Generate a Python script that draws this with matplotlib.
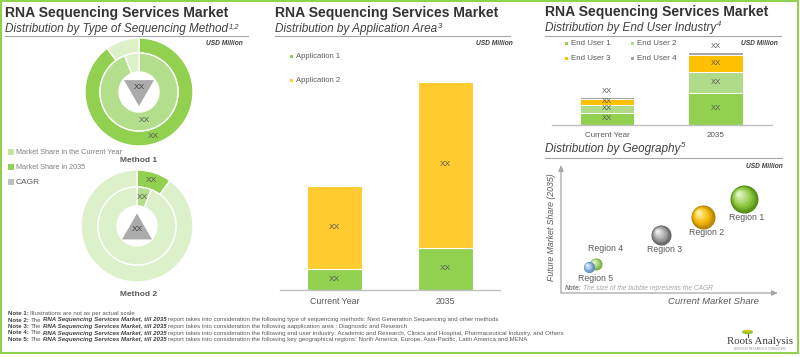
import matplotlib
matplotlib.use('Agg')
import matplotlib.pyplot as plt
from matplotlib.patches import Polygon, Rectangle, Ellipse
from matplotlib.transforms import ScaledTranslation
import matplotlib.colors as mcolors
import numpy as np

plt.rcParams['font.family'] = ['Liberation Sans', 'DejaVu Sans']

# ---------------- data ----------------
methods = ['Method 1', 'Method 2']
share_current = [94, 6]      # market share in the current year (%)
share_2035 = [90, 10]        # market share in 2035 (%)
cagr_direction = ['down', 'up']

app_categories = ['Current Year', '2035']
app_series = ['Application 1', 'Application 2']
app1 = [21, 42]
app2 = [83, 166]

eu_categories = ['Current Year', '2035']
eu_series = ['End User 1', 'End User 2', 'End User 3', 'End User 4']
eu1 = [12.3, 32.3]
eu2 = [8.0, 21.0]
eu3 = [6.0, 16.4]
eu4 = [1.5, 3.0]

regions = ['Region 1', 'Region 2', 'Region 3', 'Region 4', 'Region 5']
current_share = [84.3, 65.4, 46.1, 16.1, 12.9]
future_share = [73.4, 59.4, 45.3, 22.7, 20.3]
region_cagr = [14, 12, 10, 6, 5.5]

notes = [
    ("Note 1:", None, "Illustrations are not as per actual scale"),
    ("Note 2:", "RNA Sequencing Services Market, till 2035",
     "report takes into consideration the following type of sequencing methods: Next Generation Sequencing and other methods"),
    ("Note 3:", "RNA Sequencing Services Market, till 2035",
     "report takes into consideration the following aapplication area : Diagnostic and Research"),
    ("Note 4:", "RNA Sequencing Services Market, till 2035",
     "report takes into consideration the following end user industry: Academic and Research, Clinics and Hospital, Pharmaceutical Industry, and Others"),
    ("Note 5:", "RNA Sequencing Services Market, till 2035",
     "report takes into consideration the following key geographical regions: North America, Europe, Asia-Pacific, Latin America and MENA"),
]

# ---------------- style ----------------
W, H = 800, 357
GREEN = '#92D050'
CUR = '#B3DE8C'
OTHER = '#DCF0CA'
YEL2 = '#FFCB2F'
EU_COLORS = ['#92D050', '#B0DC8A', '#FFC000', '#A6A6A6']
GRAY_T = '#595959'
TITLE_C = '#333333'

fig = plt.figure(figsize=(8, 3.57), dpi=100)
bg = fig.add_axes([0, 0, 1, 1])
bg.set_xlim(0, W)
bg.set_ylim(H, 0)
bg.axis('off')
renderer = fig.canvas.get_renderer()


def ax_px(x0, y0, w, h):
    a = fig.add_axes([x0 / W, 1 - (y0 + h) / H, w / W, h / H])
    a.patch.set_visible(False)
    return a


def text_w(t):
    return t.get_window_extent(renderer).width


def header(x, y_title, y_sub, y_line, x_line_end, title, sub, sup):
    if title:
        bg.text(x, y_title, title, fontsize=10.1, fontweight='bold', color=TITLE_C,
                va='baseline', ha='left')
    t = bg.text(x, y_sub, sub, fontsize=8.5, fontstyle='italic', color='#404040',
                va='baseline', ha='left')
    wdt = text_w(t)
    bg.text(x + wdt + 0.5, y_sub - 4.5, sup, fontsize=5.5, fontstyle='italic',
            color='#404040', va='baseline', ha='left')
    bg.plot([x, x_line_end], [y_line, y_line], color='#A6A6A6', lw=0.8)


def usd(xr, y):
    bg.text(xr, y, 'USD Million', fontsize=4.8, fontweight='bold', fontstyle='italic',
            color='#404040', ha='right', va='baseline')


# border
bg.add_patch(Rectangle((1, 1), 797, 352, fill=False, edgecolor=GREEN, lw=1.5))

# ---------------- panel 1: donuts ----------------
header(5, 17.3, 32.3, 35.5, 248, 'RNA Sequencing Services Market',
       'Distribution by Type of Sequencing Method', '1,2')
usd(243, 45)


def donut(cx, cy, R, idx):
    ax = ax_px(cx - 60, cy - 60, 120, 120)
    other = 1 - idx
    r_mid = 39 / R
    r_in = 20 / R
    outer_vals = [share_2035[idx], share_2035[other]]
    inner_vals = [share_current[idx], share_current[other]]
    ax.pie(outer_vals, radius=1, startangle=90, counterclock=False,
           colors=[GREEN, OTHER],
           wedgeprops=dict(width=1 - r_mid, edgecolor='white', linewidth=1))
    ax.pie(inner_vals, radius=r_mid, startangle=90, counterclock=False,
           colors=[CUR, OTHER],
           wedgeprops=dict(width=r_mid - r_in, edgecolor='white', linewidth=1))
    ax.set_xlim(-60 / R, 60 / R)
    ax.set_ylim(-60 / R, 60 / R)
    ax.set_aspect('equal')
    ax.axis('off')
    # labels on this method's wedges
    for vals, rl in [(outer_vals, (1 + r_mid) / 2), (inner_vals, (r_mid + r_in) / 2)]:
        th = np.deg2rad(90 - 360 * vals[0] / sum(vals) / 2)
        ax.text(rl * np.cos(th), rl * np.sin(th), 'XX', fontsize=6, color=GRAY_T,
                ha='center', va='center')
    # CAGR triangle
    tw, thh = 30 / R / 2, 26 / R
    if cagr_direction[idx] == 'down':
        pts = [(-tw, 0.22), (tw, 0.22), (0, 0.22 - thh)]
        ty = 0.08
    else:
        pts = [(-tw, -0.24), (tw, -0.24), (0, -0.24 + thh)]
        ty = -0.06
    ax.add_patch(Polygon(pts, closed=True, color='#ABABAB', lw=0))
    ax.text(0, ty, 'XX', fontsize=6, color='#404040', ha='center', va='center')


donut(139, 92, 54, 0)
donut(137, 226, 56, 1)
bg.text(139, 161, methods[0], fontsize=6, fontweight='bold', color=GRAY_T, ha='center', va='center')
bg.text(139, 295, methods[1], fontsize=6, fontweight='bold', color=GRAY_T, ha='center', va='center')

for y, col, lab, fs in [(152.3, '#C3E5A5', 'Market Share in the Current Year', 5.2),
                        (167.3, GREEN, 'Market Share in 2035', 5.2),
                        (182, '#BFBFBF', 'CAGR', 6)]:
    bg.add_patch(Rectangle((7.5, y - 3), 6, 6, color=col, lw=0))
    bg.text(16, y, lab, fontsize=fs, color='#7F7F7F' if fs < 6 else GRAY_T,
            ha='left', va='center')

# ---------------- panel 2: application bars ----------------
header(275, 17.3, 32.3, 35.7, 510, 'RNA Sequencing Services Market',
       'Distribution by Application Area', '3')
usd(513, 45)

ax2 = ax_px(280, 70, 220, 220)
x = np.arange(len(app_categories))
b1 = ax2.bar(x, app1, width=0.495, color=GREEN, edgecolor='white', lw=0.8)
b2 = ax2.bar(x, app2, bottom=app1, width=0.495, color=YEL2, edgecolor='white', lw=0.8)
for i in range(len(x)):
    ax2.text(x[i], app1[i] / 2, 'XX', ha='center', va='center', fontsize=6, color=GRAY_T)
    ax2.text(x[i], app1[i] + app2[i] / 2, 'XX', ha='center', va='center', fontsize=6, color=GRAY_T)
ax2.set_xlim(-0.49, 1.49)
ax2.set_ylim(0, 220)
for s in ['top', 'right', 'left']:
    ax2.spines[s].set_visible(False)
ax2.spines['bottom'].set_color('#BFBFBF')
ax2.spines['bottom'].set_linewidth(1)
ax2.set_yticks([])
ax2.set_xticks(x, app_categories)
ax2.tick_params(axis='x', length=0, labelsize=6.3, labelcolor=GRAY_T, pad=5)

for y, col, lab in [(56, GREEN, app_series[0]), (80.7, YEL2, app_series[1])]:
    bg.add_patch(Rectangle((289.5, y - 1.5), 3, 3, color=col, lw=0))
    bg.text(296, y, lab, fontsize=5.5, color=GRAY_T, ha='left', va='center')

# ---------------- panel 3: end users ----------------
header(545, 16, 31, 36, 781, 'RNA Sequencing Services Market',
       'Distribution by End User Industry', '4')
usd(778, 45)

ax3 = ax_px(552, 45, 220, 80)
x3 = np.arange(len(eu_categories))
bottom = np.zeros(len(x3))
eu_all = [eu1, eu2, eu3, eu4]
for k, vals in enumerate(eu_all):
    ax3.bar(x3, vals, bottom=bottom, width=0.5, color=EU_COLORS[k], edgecolor='white', lw=0.7)
    if k < 3:
        for i in range(len(x3)):
            ax3.text(x3[i], bottom[i] + vals[i] / 2, 'XX', ha='center', va='center',
                     fontsize=5.5, color=GRAY_T)
    bottom = bottom + np.array(vals)
for i in range(len(x3)):
    ax3.annotate('XX', (x3[i], bottom[i]), xytext=(0, 4), textcoords='offset points',
                 ha='center', va='center', fontsize=5.5, color=GRAY_T)
ax3.set_xlim(-0.507, 1.521)
ax3.set_ylim(0, 80)
for s in ['top', 'right', 'left']:
    ax3.spines[s].set_visible(False)
ax3.spines['bottom'].set_color('#BFBFBF')
ax3.spines['bottom'].set_linewidth(1)
ax3.set_yticks([])
ax3.set_xticks(x3, eu_categories)
ax3.tick_params(axis='x', length=0, labelsize=5.8, labelcolor=GRAY_T, pad=5)

for (xx, y), col, lab in zip([(566, 43.3), (632, 43.3), (566, 58.3), (632, 58.3)],
                             EU_COLORS, eu_series):
    bg.add_patch(Rectangle((xx - 1.5, y - 1.5), 3, 3, color=col, lw=0))
    bg.text(xx + 5, y, lab, fontsize=5.7, color=GRAY_T, ha='left', va='center')

# ---------------- panel 4: geography bubbles ----------------
header(545, None, 151.7, 158, 782, None, 'Distribution by Geography', '5')
usd(783, 168)

ax4 = ax_px(561, 165, 217, 128)
ax4.set_xlim(0, 100)
ax4.set_ylim(0, 100)
ax4.axis('off')
ax4.annotate('', xy=(0, 1), xytext=(0, 0), xycoords='axes fraction',
             arrowprops=dict(arrowstyle='-|>,head_length=0.35,head_width=0.15',
                             color='#A6A6A6', lw=0.9, shrinkA=0, shrinkB=0))
ax4.annotate('', xy=(1, 0), xytext=(0, 0), xycoords='axes fraction',
             arrowprops=dict(arrowstyle='-|>,head_length=0.35,head_width=0.15',
                             color='#A6A6A6', lw=0.9, shrinkA=0, shrinkB=0))

bubble_cols = [('#4E8A12', '#8CC63F', '#E4F5C8'),
               ('#B07C00', '#F2B500', '#FFF3A8'),
               ('#5E5E5E', '#9C9C9C', '#F0F0F0'),
               ('#6AA63A', '#9ED36A', '#E6F6D4'),
               ('#4F7FB5', '#8DB4E2', '#E6F0FA')]
label_off = [(3, -18), (4, -16), (4, -14), (10, 15), (7, -11)]


def mix(c1, c2, t):
    a = np.array(mcolors.to_rgb(c1))
    b = np.array(mcolors.to_rgb(c2))
    return tuple(a + (b - a) * t)


N = 14
for i in range(len(regions)):
    r_pt = region_cagr[i] * 0.72
    dark, base, light = bubble_cols[i]
    for k in range(N):
        t = k / (N - 1)
        f = 1 - 0.88 * t
        if t < 0.35:
            c = mix(dark, base, t / 0.35)
        else:
            c = mix(base, light, (t - 0.35) / 0.65)
        off = r_pt * (1 - f) * 0.45
        tr = ax4.transData + ScaledTranslation(-off / 72, off / 72, fig.dpi_scale_trans)
        ax4.scatter([current_share[i]], [future_share[i]], s=(2 * r_pt * f) ** 2,
                    color=c, lw=0, transform=tr, clip_on=False, zorder=3 + i)
    dx, dy = label_off[i]
    ax4.annotate(regions[i], (current_share[i], future_share[i]),
                 xytext=(dx * 0.72, dy * 0.72), textcoords='offset points',
                 ha='center', va='center', fontsize=6.3, color=GRAY_T, zorder=20)

bg.text(713, 301.5, 'Current Market Share', fontsize=6.8, fontstyle='italic',
        color=GRAY_T, ha='center', va='center')
bg.text(552, 227, 'Future Market Share (2035)', fontsize=6.3, fontstyle='italic',
        color=GRAY_T, ha='center', va='center', rotation=90)
t = bg.text(565, 289, 'Note:', fontsize=4.8, fontweight='bold', fontstyle='italic',
            color='#7F7F7F', ha='left', va='center')
bg.text(565 + text_w(t) + 1.5, 289, 'The size of the bubble represents the CAGR',
        fontsize=4.8, fontstyle='italic', color='#A6A6A6', ha='left', va='center')

# ---------------- notes ----------------
NFS = 4.4
gap = NFS * 0.28 * 100 / 72
ys = [315, 321.5, 328, 334.5, 341]
for (lab, it, rest), y in zip(notes, ys):
    xx = 8
    t = bg.text(xx, y, lab, fontsize=NFS, fontweight='bold', color='#404040', va='baseline')
    xx += text_w(t) + gap
    if it is not None:
        t = bg.text(xx, y, 'The', fontsize=NFS, color='#595959', va='baseline')
        xx += text_w(t) + gap
        t = bg.text(xx, y, it, fontsize=NFS, fontweight='bold', fontstyle='italic',
                    color='#404040', va='baseline')
        xx += text_w(t) + gap
    bg.text(xx, y, rest, fontsize=NFS, color='#595959', va='baseline')

# ---------------- logo ----------------
bg.text(760, 344, 'Roots Analysis', family=['Liberation Serif', 'DejaVu Serif'],
        fontsize=7.8, color='#3F3F3F', ha='center', va='baseline')
bg.add_patch(Ellipse((747.5, 332), 11, 4.5, color='#8CC63F', lw=0))
bg.add_patch(Ellipse((747.5, 331), 6, 2.2, color='#F2C200', lw=0))
bg.plot([747.5, 747.5], [333.5, 336.5], color='#6B4F2A', lw=0.8)
bg.text(760, 349.5, 'BUSINESS RESEARCH & CONSULTING', fontsize=2.0, color='#8C8C8C',
        ha='center', va='center')

fig.savefig('out.png', dpi=100)
